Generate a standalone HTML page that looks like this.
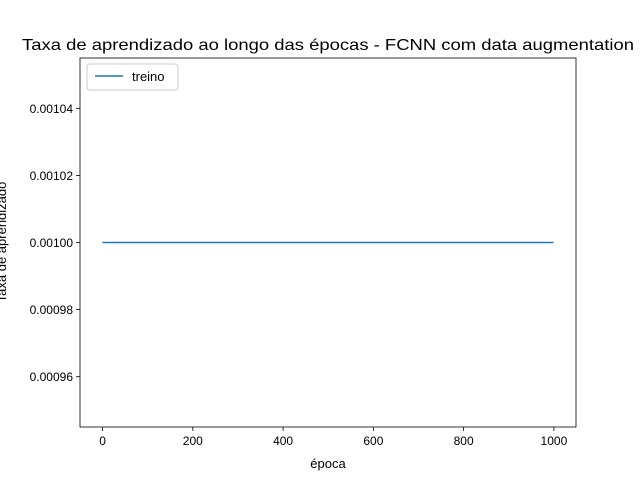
<!DOCTYPE html>
<html><head><meta charset="utf-8"><style>
body{margin:0;background:#fff}
svg text{font-family:"Liberation Sans","DejaVu Sans",sans-serif;fill:#000}
</style></head><body>
<svg id="c" width="640" height="480">
<rect x="0" y="0" width="640" height="480" fill="#fff"/>
<text x="22" y="50" font-size="16" textLength="612" lengthAdjust="spacingAndGlyphs">Taxa de aprendizado ao longo das épocas - FCNN com data augmentation</text>
<text x="328" y="468" font-size="13" text-anchor="middle">época</text>
<text transform="translate(6,242) rotate(-90)" font-size="13" text-anchor="middle">Taxa de aprendizado</text>
<g id="ticks"></g>
<g id="series"></g>
<rect x="80" y="58" width="496" height="369" fill="none" stroke="#000" stroke-width="0.8"/>
<g>
<rect x="87" y="64" width="91" height="26" rx="3" fill="#fff" stroke="#ccc"/>
<line x1="95" y1="76" x2="123" y2="76" stroke="#1f77b4" stroke-width="1.5"/>
<text x="132" y="81" font-size="13">treino</text>
</g>
</svg>
<script>
const xTicks=[0,200,400,600,800,1000];
const yTicks=[0.00096,0.00098,0.00100,0.00102,0.00104];
const yTickLabels=["0.00096","0.00098","0.00100","0.00102","0.00104"];
const epochs=[0,999];
const lrValues=[0.001,0.001];
const L=80,R=576,T=58,B=427,xmin=-49.95,xmax=1048.95,ymin=0.000945,ymax=0.001055;
const sx=v=>L+(v-xmin)/(xmax-xmin)*(R-L);
const sy=v=>B-(v-ymin)/(ymax-ymin)*(B-T);
const NS="http://www.w3.org/2000/svg";
const tg=document.getElementById('ticks');
function mk(t,a){const e=document.createElementNS(NS,t);for(const k in a)e.setAttribute(k,a[k]);return e;}
xTicks.forEach(v=>{
 const l=mk('line',{x1:sx(v),x2:sx(v),y1:B,y2:B+4,stroke:'#000','stroke-width':0.8});
 
 
 tg.appendChild(l);
 const t=mk('text',{x:sx(v),y:B+18,'font-size':12,'text-anchor':'middle'});
 
 
 t.textContent=v;tg.appendChild(t);
});
yTicks.forEach((v,i)=>{
 const l=mk('line',{x1:L-4,x2:L,y1:sy(v),y2:sy(v),stroke:'#000','stroke-width':0.8});
 
 
 tg.appendChild(l);
 const t=mk('text',{x:L-7,y:sy(v)+4.5,'font-size':12,'text-anchor':'end'});
 
 
 t.textContent=yTickLabels[i];tg.appendChild(t);
});
const p=mk('polyline',{points:epochs.map((e,i)=>sx(e)+','+sy(lrValues[i])).join(' '),fill:'none',stroke:'#1f77b4','stroke-width':1.5});


document.getElementById('series').appendChild(p);
</script>
</body></html>
